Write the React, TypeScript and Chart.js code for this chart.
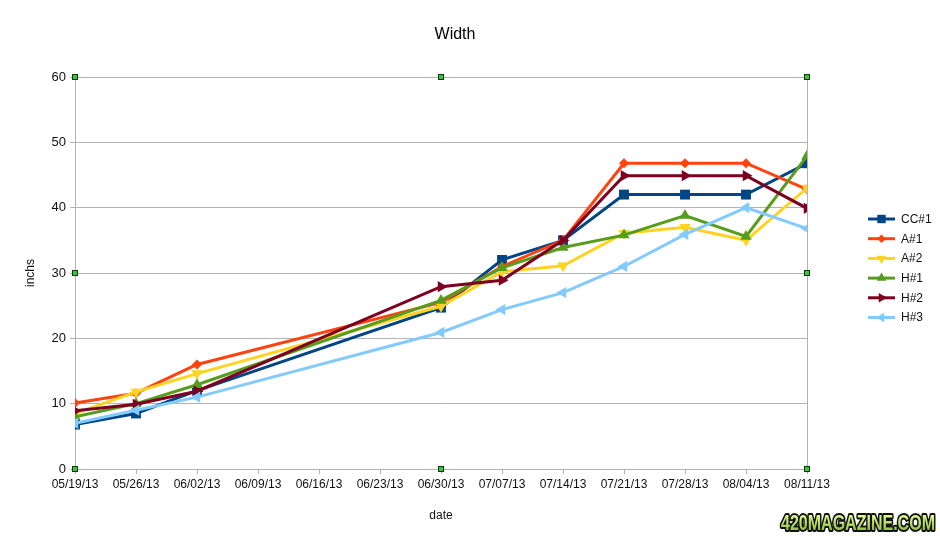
import React, { useEffect, useRef } from "react";
import { Chart, registerables } from "chart.js";

Chart.register(...registerables);

const dates = ["2013-05-19", "2013-05-26", "2013-06-02", "2013-06-30", "2013-07-07", "2013-07-14", "2013-07-21", "2013-07-28", "2013-08-04", "2013-08-11"];
const startDate = "2013-05-19";
const endDate = "2013-08-11";
const seriesNames = ["CC#1", "A#1", "A#2", "H#1", "H#2", "H#3"];
const cc1 = [6.8, 8.5, 12, 24.7, 32, 35, 42, 42, 42, 46.8];
const a1 = [10.1, 11.6, 16, 25.5, 31, 35, 46.8, 46.8, 46.8, 42.8];
const a2 = [8.5, 11.8, 14.6, 24.9, 30.2, 31.1, 36.1, 37, 35, 43];
const h1 = [8, 10, 12.9, 25.8, 30.8, 33.9, 35.8, 38.8, 35.6, 47.9];
const h2 = [8.9, 9.9, 11.9, 27.9, 28.9, 35, 44.9, 44.9, 44.9, 39.9];
const h3 = [7, 9, 11, 20.9, 24.4, 27, 31, 35.9, 40, 36.8];
const seriesValues = [cc1, a1, a2, h1, h2, h3];
const colors = ["#004586", "#ff420e", "#ffd320", "#579d1c", "#7e0021", "#83caff"];
const pointStyles = ["rect", "rectRot", "triangle", "triangle", "triangle", "triangle"];
const rotations = [0, 0, 180, 0, 90, 270];
const radii = [7, 5, 6.5, 6.5, 6.5, 6.5];
const yTicks = [0, 10, 20, 30, 40, 50, 60];

const DAY = 86400000;
const toDay = (s: string) => Math.round((Date.parse(s + "T00:00:00Z") - Date.parse(startDate + "T00:00:00Z")) / DAY);
const fmt = (v: number) => {
  const d = new Date(Date.parse(startDate + "T00:00:00Z") + v * DAY);
  const mm = String(d.getUTCMonth() + 1).padStart(2, "0");
  const dd = String(d.getUTCDate()).padStart(2, "0");
  const yy = String(d.getUTCFullYear() % 100).padStart(2, "0");
  return `${mm}/${dd}/${yy}`;
};

const FONT = "'Liberation Sans', Arial, sans-serif";

function drawMarker(ctx: CanvasRenderingContext2D, style: string, rot: number, x: number, y: number, r: number) {
  ctx.save();
  ctx.translate(x, y);
  ctx.rotate((rot * Math.PI) / 180);
  ctx.beginPath();
  if (style === "rect") {
    const s = Math.SQRT1_2 * r;
    ctx.rect(-s, -s, 2 * s, 2 * s);
  } else if (style === "rectRot") {
    ctx.moveTo(0, -r);
    ctx.lineTo(r, 0);
    ctx.lineTo(0, r);
    ctx.lineTo(-r, 0);
    ctx.closePath();
  } else {
    const a = Math.PI / 2;
    ctx.moveTo(r * Math.cos(-a), r * Math.sin(-a));
    ctx.lineTo(r * Math.cos(-a + (2 * Math.PI) / 3), r * Math.sin(-a + (2 * Math.PI) / 3));
    ctx.lineTo(r * Math.cos(-a + (4 * Math.PI) / 3), r * Math.sin(-a + (4 * Math.PI) / 3));
    ctx.closePath();
  }
  ctx.fill();
  ctx.restore();
}

const decorPlugin = {
  id: "decor",
  afterDraw(chart: any) {
    const ctx = chart.ctx as CanvasRenderingContext2D;
    const a = chart.chartArea;
    ctx.save();
    // title
    ctx.fillStyle = "#000";
    ctx.font = `16px ${FONT}`;
    ctx.textAlign = "center";
    ctx.textBaseline = "middle";
    ctx.fillText("Width", 455, 35);
    // legend
    const rowH = 19.7;
    const top = 219;
    chart.data.datasets.forEach((ds: any, i: number) => {
      const y = top + i * rowH;
      ctx.strokeStyle = ds.borderColor;
      ctx.lineWidth = 3;
      ctx.beginPath();
      ctx.moveTo(868, y);
      ctx.lineTo(895, y);
      ctx.stroke();
      ctx.fillStyle = ds.borderColor;
      drawMarker(ctx, pointStyles[i], rotations[i], 881.5, y, radii[i] * 0.85);
      ctx.fillStyle = "#111";
      ctx.font = `12px ${FONT}`;
      ctx.textAlign = "left";
      ctx.fillText(ds.label, 901, y + 0.5);
    });
    // selection handles
    const mx = (a.left + a.right) / 2;
    const my = (a.top + a.bottom) / 2;
    const pts = [
      [a.left, a.top], [mx, a.top], [a.right, a.top],
      [a.left, my], [a.right, my],
      [a.left, a.bottom], [mx, a.bottom], [a.right, a.bottom],
    ];
    pts.forEach(([x, y]) => {
      ctx.fillStyle = "#3bc43b";
      ctx.fillRect(Math.round(x) - 3, Math.round(y) - 3, 6, 6);
      ctx.strokeStyle = "#0a3a0a";
      ctx.lineWidth = 1;
      ctx.strokeRect(Math.round(x) - 2.5, Math.round(y) - 2.5, 5, 5);
    });
    // watermark
    const wm = "420MAGAZINE.COM";
    ctx.font = `bold 22px ${FONT}`;
    const w = ctx.measureText(wm).width;
    const target = 154;
    ctx.translate(858, 524);
    ctx.scale(target / w, 1);
    ctx.textAlign = "center";
    ctx.textBaseline = "middle";
    ctx.lineWidth = 4;
    ctx.strokeStyle = "#111";
    ctx.lineJoin = "round";
    ctx.strokeText(wm, 0, 0);
    const g = ctx.createLinearGradient(0, -10, 0, 10);
    g.addColorStop(0, "#e6ff9a");
    g.addColorStop(1, "#7fb52a");
    ctx.fillStyle = g;
    ctx.fillText(wm, 0, 0);
    ctx.restore();
  },
};

export default function App() {
  const ref = useRef<HTMLCanvasElement>(null);
  useEffect(() => {
    if (!ref.current) return;
    const dayOffsets = dates.map(toDay);
    const maxDay = toDay(endDate);
    const chart = new Chart(ref.current, {
      type: "line",
      data: {
        datasets: seriesNames.map((name, i) => ({
          label: name,
          data: seriesValues[i].map((v, j) => ({ x: dayOffsets[j], y: v })),
          borderColor: colors[i],
          backgroundColor: colors[i],
          borderWidth: 3,
          pointStyle: pointStyles[i] as any,
          pointRotation: rotations[i],
          pointRadius: radii[i],
          pointBorderWidth: 0,
          pointBackgroundColor: colors[i],
          tension: 0,
          fill: false,
          order: seriesNames.length - 1 - i,
        })),
      },
      plugins: [decorPlugin],
      options: {
        animation: false,
        responsive: false,
        maintainAspectRatio: false,
        layout: { padding: { top: 77, right: 133, left: 0, bottom: 0 } },
        plugins: {
          legend: { display: false },
          title: { display: false },
          tooltip: { enabled: false },
        },
        scales: {
          x: {
            type: "linear",
            min: 0,
            max: maxDay,
            afterFit: (s: any) => { s.height = 539 - 469; },
            afterBuildTicks: (s: any) => {
              const t = [];
              for (let d = 0; d <= maxDay; d += 7) t.push({ value: d });
              s.ticks = t;
            },
            ticks: {
              callback: (v: any) => fmt(Number(v)),
              color: "#111",
              font: { family: FONT, size: 12 },
              padding: 3,
              maxRotation: 0,
              autoSkip: false,
            },
            grid: {
              color: (c: any) => (c.tick && (c.tick.value === 0 || c.tick.value === maxDay) ? "#b3b3b3" : "rgba(0,0,0,0)"),
              tickColor: "#b3b3b3",
              tickLength: 5,
              lineWidth: 1,
            },
            border: { color: "#b3b3b3" },
            title: {
              display: true,
              text: "date",
              color: "#111",
              font: { family: FONT, size: 12 },
              padding: { top: 0, bottom: 16 },
            },
          },
          y: {
            type: "linear",
            min: 0,
            max: 60,
            afterFit: (s: any) => { s.width = 75; },
            afterBuildTicks: (s: any) => { s.ticks = yTicks.map((v) => ({ value: v })); },
            ticks: {
              color: "#111",
              font: { family: FONT, size: 13 },
              padding: 4,
            },
            grid: { color: "#b3b3b3", tickColor: "#b3b3b3", tickLength: 5, lineWidth: 1 },
            border: { color: "#b3b3b3" },
            title: {
              display: true,
              text: "inchs",
              color: "#111",
              font: { family: FONT, size: 12 },
              padding: { top: 23, bottom: 0 },
            },
          },
        },
      },
    });
    return () => chart.destroy();
  }, []);
  return (
    <div style={{ position: "fixed", left: 0, top: 0, width: 940, height: 539, background: "#fff" }}>
      <canvas ref={ref} width={940} height={539} style={{ width: 940, height: 539, display: "block" }} />
    </div>
  );
}
